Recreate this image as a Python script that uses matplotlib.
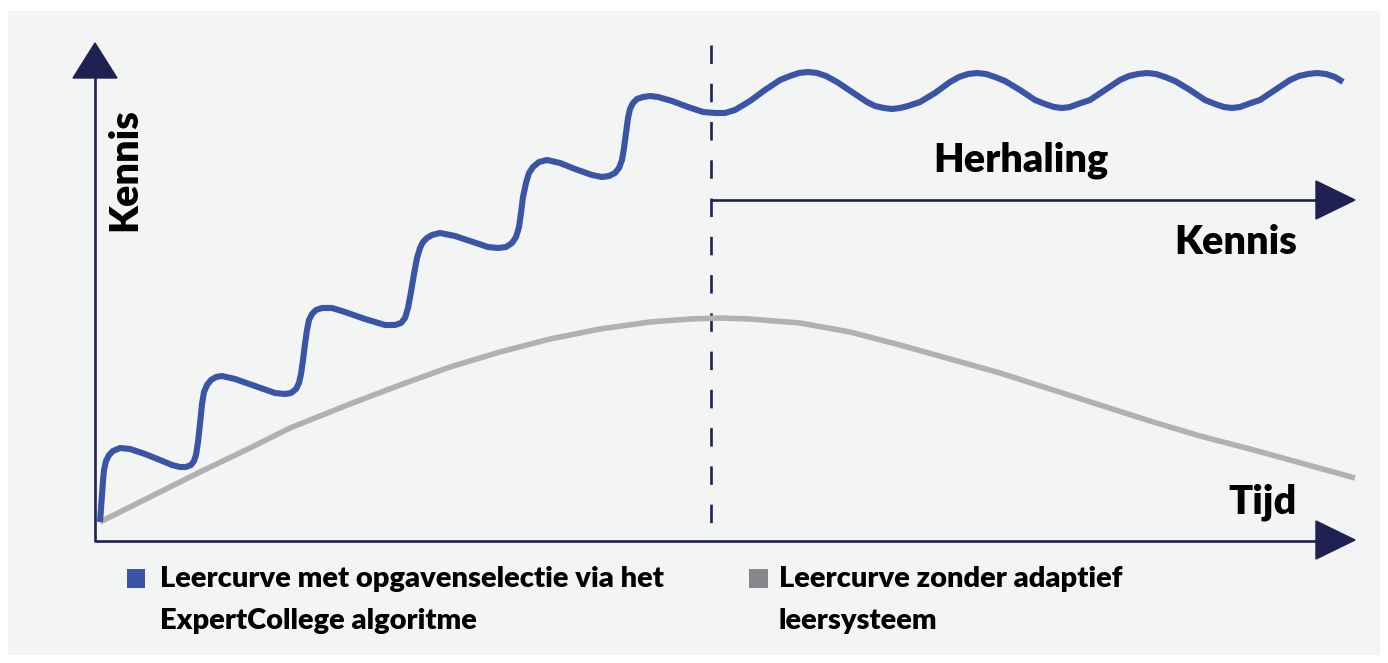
import matplotlib.pyplot as plt
from matplotlib.patches import Rectangle, Polygon

# ---- data (pixel space, y downwards) ----
blue_x = [100, 101, 102, 103, 104, 106, 109, 113, 120, 130, 145, 160, 172, 180, 186, 191, 194, 196,
          198, 200, 202, 204, 207, 211, 216, 222, 235, 255, 275, 285, 291, 296, 299, 301, 303, 305,
          307, 309, 312, 316, 322, 332, 345, 365, 385, 395, 401, 405, 408, 411, 414, 417, 420, 423,
          427, 432, 440, 455, 470, 488, 498, 506, 512, 516, 519, 521, 523, 526, 529, 533, 539, 547,
          560, 575, 592, 602, 609, 615, 619, 622, 624, 626, 628, 630, 633, 637, 643, 650, 658, 672,
          688, 703, 715, 725, 735, 750, 765, 780, 790, 799, 808, 817, 826, 837, 852, 867, 875, 884,
          892, 900, 908, 920, 935, 950, 959, 968, 977, 986, 995, 1005, 1020, 1035, 1045, 1054, 1062,
          1070, 1078, 1090, 1105, 1120, 1129, 1138, 1147, 1156, 1165, 1175, 1190, 1205, 1215, 1224,
          1232, 1240, 1248, 1260, 1275, 1290, 1299, 1308, 1317, 1326, 1335, 1343]
blue_y = [522, 508, 494, 481, 470, 461, 455, 451, 448, 449, 454, 460, 465, 467, 467, 465, 461, 455,
          442, 424, 404, 392, 385, 380, 377, 376, 379, 386, 393, 394, 393, 389, 383, 374, 360, 344,
          330, 320, 314, 310, 308, 308, 312, 319, 325, 325, 323, 318, 308, 292, 274, 258, 248, 242,
          238, 235, 233, 236, 241, 247, 248, 247, 243, 237, 227, 213, 197, 183, 173, 167, 162, 160,
          163, 169, 175, 177, 176, 173, 168, 160, 148, 133, 118, 109, 103, 99, 97, 96, 97, 101,
          107, 112, 113, 113, 110, 101, 90, 80, 76, 73, 72, 73, 76, 82, 92, 102, 106, 108,
          109, 108, 106, 102, 93, 82, 77, 74, 73, 74, 77, 81, 90, 100, 104, 107, 108,
          107, 104, 100, 90, 80, 76, 74, 73, 74, 77, 81, 90, 100, 104, 107,
          108, 107, 104, 100, 90, 80, 76, 74, 73, 74, 77, 82]

gray_x = [100, 150, 200, 250, 290, 350, 400, 450, 500, 550, 600, 650, 690, 720, 750, 800, 850, 900,
          950, 1000, 1050, 1100, 1150, 1200, 1250, 1290, 1355]
gray_y = [522, 497, 472, 448, 428, 404, 385, 367, 352, 339, 329, 322, 319, 318, 319, 323, 332, 345,
          359, 373, 389, 405, 421, 436, 449, 460, 478]

legend_labels = ["Leercurve met opgavenselectie via het\nExpertCollege algoritme",
                 "Leercurve zonder adaptief\nleersysteem"]

navy = '#1e2152'
blue = '#3b55a6'
gray = '#b1b1b4'
font = ['Lato', 'DejaVu Sans']

fig = plt.figure(figsize=(13.88, 6.63), dpi=100, facecolor='white')
ax = fig.add_axes([0, 0, 1, 1])
ax.set_xlim(0, 1388)
ax.set_ylim(663, 0)
ax.axis('off')

# panel background
ax.add_patch(Rectangle((8, 11), 1372, 644, facecolor='#f3f4f4', edgecolor='none', zorder=0))

# axes with arrow heads
ax.plot([95, 95], [541, 76], color=navy, lw=1.9, solid_capstyle='butt', zorder=2)
ax.add_patch(Polygon([[73, 78], [117, 78], [95, 43]], closed=True, color=navy, zorder=3))
ax.plot([94, 1318], [541, 541], color=navy, lw=1.9, solid_capstyle='butt', zorder=2)
ax.add_patch(Polygon([[1316, 521], [1316, 559], [1355, 540]], closed=True, color=navy, zorder=3))
ax.plot([711, 1318], [200, 200], color=navy, lw=1.9, solid_capstyle='butt', zorder=2)
ax.add_patch(Polygon([[1316, 181], [1316, 219], [1355, 200]], closed=True, color=navy, zorder=3))

# dashed divider
ax.plot([711, 711], [45, 541], color=navy, lw=1.9, linestyle=(0, (7, 7.5)), zorder=2)

# curves
ax.plot(gray_x, gray_y, color=gray, lw=4.0, solid_joinstyle='round', solid_capstyle='butt', zorder=4)
ax.plot(blue_x, blue_y, color=blue, lw=4.4, solid_joinstyle='round', solid_capstyle='butt', zorder=5)

# labels
tkw = dict(fontsize=28.5, fontweight='heavy', family=font, color='black')
ax.text(125, 170, 'Kennis', rotation=90, ha='center', va='center', **tkw)
ax.text(1021, 160, 'Herhaling', ha='center', va='center', **tkw)
ax.text(1297, 243, 'Kennis', ha='right', va='center', **tkw)
ax.text(1297, 502, 'Tijd', ha='right', va='center', **tkw)

# legend
ax.add_patch(Rectangle((127, 569), 18, 19, facecolor=blue, edgecolor='none'))
ax.add_patch(Rectangle((749, 569), 19, 19, facecolor='#86868b', edgecolor='none'))
lkw = dict(fontsize=21, fontweight='heavy', family=font, color='black', ha='left', va='center')
for x0, lab in zip([160, 779], legend_labels):
    first, second = lab.split('\n')
    ax.text(x0, 579, first, **lkw)
    ax.text(x0, 621, second, **lkw)

fig.savefig('out.png', dpi=100, facecolor='white')
